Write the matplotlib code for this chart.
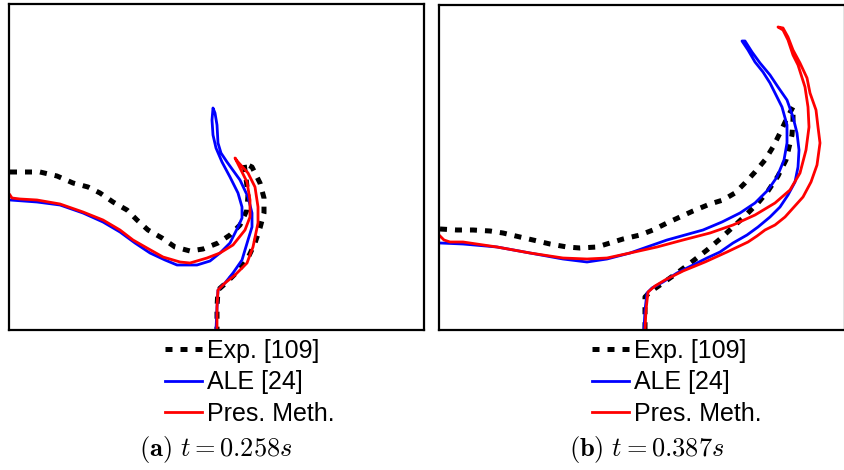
import numpy as np
import matplotlib
matplotlib.use("Agg")
from matplotlib import pyplot as plt
from matplotlib.lines import Line2D

plt.rcParams['font.family'] = ['Liberation Sans', 'DejaVu Sans']
plt.rcParams['mathtext.fontset'] = 'cm'

# interface contours digitised in image pixels (x right, y down)
# panel (a): t = 0.258 s
exp_a_x = [10, 27, 40, 57, 73, 88, 100, 113, 127, 137, 148, 162, 175, 190, 203, 218, 230, 240,
           247, 248, 246, 244, 252, 260, 264, 264, 260, 255, 247, 237, 227, 218, 217, 217]
exp_a_y = [172, 172, 172, 176, 183, 187, 193, 202, 210, 220, 230, 238, 247, 251, 249, 243, 235, 225,
           210, 195, 178, 163, 167, 183, 198, 213, 228, 243, 260, 272, 282, 290, 307, 330]

ale_a_x = [10, 37, 60, 83, 103, 120, 135, 150, 165, 177, 197, 210, 220, 230, 238, 242, 242, 238,
           230, 222, 216, 213, 212, 213, 215, 217, 218, 221, 227, 240, 248, 252, 252, 248, 242, 233,
           225, 218, 217, 216]
ale_a_y = [200, 202, 205, 213, 222, 232, 243, 253, 260, 265, 265, 261, 253, 243, 227, 218, 207, 193,
           177, 162, 148, 135, 120, 108, 113, 125, 143, 153, 162, 180, 197, 213, 227, 240, 260, 273,
           283, 290, 307, 330]

pm_a_x = [10, 12, 20, 37, 60, 83, 103, 120, 133, 147, 163, 180, 190, 207, 220, 233, 245, 250, 250,
          247, 240, 235, 238, 248, 255, 258, 258, 253, 247, 235, 225, 218, 217, 217]
pm_a_y = [195, 198, 199, 200, 204, 212, 220, 230, 240, 248, 257, 262, 263, 258, 253, 245, 230, 217, 200,
          182, 168, 158, 162, 173, 187, 207, 223, 247, 263, 275, 283, 290, 307, 330]

# panel (b): t = 0.387 s
exp_b_x = [440, 457, 473, 490, 503, 520, 533, 550, 567, 580, 597, 610, 623, 640, 653, 667, 680, 693,
           710, 723, 735, 745, 755, 765, 773, 780, 787, 793, 793, 792, 786, 778, 768, 758, 745, 733,
           720, 707, 693, 677, 663, 650, 645, 645, 645]
exp_b_y = [229, 230, 230, 231, 233, 237, 240, 244, 247, 248, 247, 243, 239, 235, 230, 223, 217, 211,
           204, 200, 193, 183, 172, 160, 147, 133, 118, 107, 120, 135, 160, 176, 191, 203, 216, 227,
           239, 250, 261, 273, 283, 292, 297, 313, 330]

ale_b_x = [440, 463, 497, 530, 563, 587, 607, 630, 647, 667, 685, 703, 722, 740, 755, 768, 777, 784,
           787, 787, 782, 777, 770, 763, 755, 748, 742, 745, 752, 760, 770, 778, 787, 793, 797, 799,
           798, 795, 788, 780, 770, 758, 747, 733, 720, 707, 693, 677, 663, 652, 647, 645, 644]
ale_b_y = [243, 244, 247, 253, 259, 262, 259, 253, 247, 240, 235, 230, 222, 213, 203, 190, 177, 160,
           143, 125, 107, 97, 83, 72, 62, 50, 41, 41, 52, 63, 75, 87, 100, 117, 133, 150,
           167, 182, 195, 207, 217, 227, 235, 243, 252, 258, 265, 273, 282, 288, 293, 310, 330]

pm_b_x = [440, 444, 450, 463, 497, 530, 563, 587, 607, 630, 657, 683, 710, 733, 755, 775, 790, 800,
          806, 809, 808, 805, 798, 793, 788, 783, 778, 783, 788, 793, 800, 807, 810, 816, 818, 820,
          817, 811, 803, 794, 785, 775, 765, 757, 748, 727, 705, 683, 665, 655, 648, 646, 645]
pm_b_y = [236, 240, 242, 242, 247, 253, 258, 259, 258, 253, 247, 240, 233, 225, 215, 203, 190, 173,
          150, 127, 107, 87, 65, 55, 40, 30, 27, 28, 37, 50, 63, 78, 93, 110, 127, 143,
          165, 182, 197, 207, 217, 225, 230, 236, 242, 252, 262, 271, 280, 286, 292, 310, 330]

labels = ["Exp. [109]", "ALE [24]", "Pres. Meth."]
captions = [r"$\mathbf{(a)}\ t = 0.258s$", r"$\mathbf{(b)}\ t = 0.387s$"]

W, H = 844, 470
fig = plt.figure(figsize=(W / 100, H / 100), dpi=100)

panels = [
    dict(rect=[9, 4, 424, 330], exp=(exp_a_x, exp_a_y), ale=(ale_a_x, ale_a_y), pm=(pm_a_x, pm_a_y),
         leg=(165, 339), cap=216),
    dict(rect=[439, 5, 845, 330], exp=(exp_b_x, exp_b_y), ale=(ale_b_x, ale_b_y), pm=(pm_b_x, pm_b_y),
         leg=(592, 339), cap=647),
]

exp_style = dict(color="black", lw=3.6, ls=(0, (1.4, 1.6)), dash_capstyle="butt")
ale_style = dict(color="#0000ff", lw=2.0, solid_joinstyle="round")
pm_style = dict(color="#ff0000", lw=2.0, solid_joinstyle="round")

for i, p in enumerate(panels):
    x0, y0, x1, y1 = p["rect"]
    ax = fig.add_axes([x0 / W, 1 - y1 / H, (x1 - x0) / W, (y1 - y0) / H])
    ax.plot(*p["exp"], **exp_style)
    ax.plot(*p["ale"], **ale_style)
    ax.plot(*p["pm"], **pm_style)
    ax.set_xlim(x0, x1)
    ax.set_ylim(y1, y0)
    ax.set_xticks([])
    ax.set_yticks([])
    for s in ax.spines.values():
        s.set_linewidth(1.6)

    handles = [Line2D([], [], **exp_style), Line2D([], [], **ale_style), Line2D([], [], **pm_style)]
    lx, ly = p["leg"]
    ax.legend(handles, labels, loc="upper left", bbox_to_anchor=(lx / W, 1 - ly / H),
              bbox_transform=fig.transFigure, frameon=False, fontsize=18,
              borderpad=0, borderaxespad=0, handlelength=1.48, handletextpad=0.2,
              labelspacing=0.3)

    fig.text(p["cap"] / W, 1 - 456 / H, captions[i], ha="center", va="baseline", fontsize=19)

fig.savefig("out.png", dpi=100)
